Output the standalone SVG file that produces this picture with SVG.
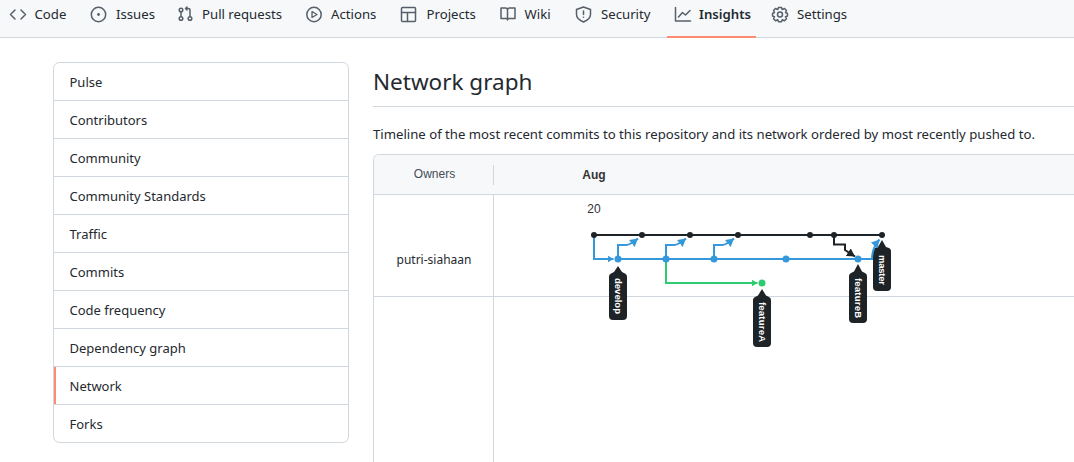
<svg xmlns="http://www.w3.org/2000/svg" width="1074" height="462" viewBox="0 0 1074 462">
<style>
text{font-family:"Noto Sans","Open Sans","Liberation Sans",sans-serif;fill:#24292f}
.n{font-size:13.200px}
.s{font-size:13px}
.ic{fill:none;stroke:#57606a;stroke-width:1.5;stroke-linecap:round;stroke-linejoin:round}
.sep{stroke:#d0d7de;stroke-width:1;fill:none}
.k{stroke:#1e2327;stroke-width:2;fill:none}
.b{stroke:#3498db;stroke-width:2;fill:none}
.g{stroke:#2ecc71;stroke-width:2;fill:none}
.tag{fill:#1e2327}
.tt{fill:#fff;font-family:"Liberation Sans",sans-serif;font-size:9.500px;font-weight:700}
</style>
<defs>
<marker id="ab" markerUnits="userSpaceOnUse" markerWidth="7" markerHeight="7" refX="6" refY="3.500" orient="auto"><path d="M0 0L6 3.500L0 7Z" fill="#3498db"/></marker>
<marker id="ad" markerUnits="userSpaceOnUse" markerWidth="9" markerHeight="9" refX="8" refY="4.500" orient="auto"><path d="M0 0L8 4.500L0 9Z" fill="#3498db"/></marker>
<marker id="ag" markerUnits="userSpaceOnUse" markerWidth="7" markerHeight="7" refX="6" refY="3.500" orient="auto"><path d="M0 0L6 3.500L0 7Z" fill="#2ecc71"/></marker>
<marker id="ak" markerUnits="userSpaceOnUse" markerWidth="9" markerHeight="9" refX="8" refY="4.500" orient="auto"><path d="M0 0L8 4.500L0 9Z" fill="#1e2327"/></marker>
</defs>
<rect width="1074" height="462" fill="#fff"/>
<g id="nav">
<rect width="1074" height="37.500" fill="#f6f8fa"/>
<path class="sep" d="M0 37.500H1074"/>
<rect x="667" y="36" width="89" height="2" fill="#fd8c73"/>
<path class="ic" d="M15 10L10.500 14.500L15 19M21 10L25.500 14.500L21 19"/>
<text class="n" x="34.500" y="19">Code</text>
<circle class="ic" cx="98.500" cy="14.500" r="7.200"/><circle cx="98.500" cy="14.500" r="1.400" fill="#57606a"/>
<text class="n" x="116" y="19">Issues</text>
<circle class="ic" cx="181" cy="10" r="1.800"/><circle class="ic" cx="181" cy="18.500" r="1.800"/><circle class="ic" cx="190" cy="18.500" r="1.800"/>
<path class="ic" d="M181 12V16.500M190 16.500V10Q190 8.500 188 8.500H185.500M187 7L185.500 8.500L187 10"/>
<text class="n" x="202" y="19">Pull requests</text>
<circle class="ic" cx="314" cy="14.500" r="7.200"/><path d="M312 11.500V17.500L317 14.500Z" fill="none" stroke="#57606a" stroke-width="1.300" stroke-linejoin="round"/>
<text class="n" x="331" y="19">Actions</text>
<rect class="ic" x="401.500" y="7.500" width="14" height="14" rx="1"/><path class="ic" d="M401.500 12.500H415.500M407.500 12.500V21.500"/>
<text class="n" x="426.500" y="19">Projects</text>
<path class="ic" d="M507.500 19.500V10Q507.500 8 505.500 8H501V18.500H506Q507.500 18.500 507.500 20Q507.500 18.500 509 18.500H515V8H509.500Q507.500 8 507.500 10"/>
<text class="n" x="524.500" y="19">Wiki</text>
<path class="ic" d="M583.500 7L590.500 9.500V14.500Q590.500 19 583.500 22Q576.500 19 576.500 14.500V9.500Z"/><path class="ic" d="M583.500 11V14.500"/><circle cx="583.500" cy="17.300" r=".8" fill="#57606a"/>
<text class="n" x="601" y="19">Security</text>
<path class="ic" d="M675.500 7.500V21H690.500M678.500 17L682.500 12.500L685.500 15L690 10.500"/>
<text class="n" x="699" y="19" font-weight="600">Insights</text>
<circle class="ic" cx="780" cy="14.500" r="2.500"/><path class="ic" d="M778.500 7.500H781.500L782.200 9.500L784.500 8.500L786.500 10.500L785.500 12.500L787.500 13.500V16L785.500 16.700L786.500 18.800L784.500 20.800L782.200 19.800L781.500 21.700H778.500L777.800 19.800L775.500 20.800L773.500 18.800L774.500 16.700L772.500 16V13.500L774.500 12.500L773.500 10.500L775.500 8.500L777.800 9.500Z"/>
<text class="n" x="797" y="19">Settings</text>
</g>
<g id="sidebar">
<rect x="53.500" y="62.500" width="295" height="380" rx="6" fill="#fff" stroke="#d0d7de"/>
<path class="sep" d="M54 100.500H348M54 138.500H348M54 176.500H348M54 214.500H348M54 252.500H348M54 290.500H348M54 328.500H348M54 366.500H348M54 404.500H348"/>
<rect x="54" y="367" width="2" height="37" fill="#fd8c73"/>
<text class="s" x="69.500" y="87">Pulse</text>
<text class="s" x="69.500" y="125">Contributors</text>
<text class="s" x="69.500" y="163">Community</text>
<text class="s" x="69.500" y="201">Community Standards</text>
<text class="s" x="69.500" y="239">Traffic</text>
<text class="s" x="69.500" y="277">Commits</text>
<text class="s" x="69.500" y="315">Code frequency</text>
<text class="s" x="69.500" y="353">Dependency graph</text>
<text class="s" x="69.500" y="391">Network</text>
<text class="s" x="69.500" y="429">Forks</text>
</g>
<g id="header">
<text x="373" y="90" font-size="22.500">Network graph</text>
<path class="sep" d="M373 106.500H1074"/>
<text x="373" y="139" font-size="13.170">Timeline of the most recent commits to this repository and its network ordered by most recently pushed to.</text>
</g>
<g id="panel">
<path d="M1074 154.500H379.500Q373.500 154.500 373.500 160.500V462" fill="none" stroke="#d0d7de"/>
<path d="M1074 155H380Q374 155 374 161V194H1074Z" fill="#f6f8fa"/>
<path class="sep" d="M374 194.500H1074M374 296.500H1074M493.500 195V462M493.500 165V185"/>
<text x="434.500" y="178" font-size="12" text-anchor="middle" style="fill:#444d56;font-family:'Liberation Sans',sans-serif">Owners</text>
<text x="594" y="179" font-size="12" text-anchor="middle" font-weight="700" style="fill:#333;font-family:'Liberation Sans',sans-serif">Aug</text>
<text x="594" y="213" font-size="12" text-anchor="middle" style="fill:#333;font-family:'Liberation Sans',sans-serif">20</text>
<text x="434" y="264" font-size="12" text-anchor="middle">putri-siahaan</text>
</g>
<g id="connectors">
<path class="k" d="M594 235H882"/>
<path class="b" d="M618 259H858"/>
<path class="b" d="M594 235V259H613.500" marker-end="url(#ab)"/>
<path class="b" d="M618 259V245H626Q630 245 638 238.500" marker-end="url(#ad)"/>
<path class="b" d="M666 259V245H674Q678 245 686 238.500" marker-end="url(#ad)"/>
<path class="b" d="M714 259V245H722Q726 245 734 238.500" marker-end="url(#ad)"/>
<path class="k" d="M834 235V244.500H845V250L855 256.500" marker-end="url(#ak)"/>
<path class="g" d="M666 259V283H757.500" marker-end="url(#ag)"/>
</g>
<g id="c-master" fill="#1e2327"><circle cx="594" cy="235" r="3"/><circle cx="642" cy="235" r="3"/><circle cx="690" cy="235" r="3"/><circle cx="738" cy="235" r="3"/><circle cx="810" cy="235" r="3"/><circle cx="834" cy="235" r="3"/><circle cx="882" cy="235" r="3"/></g>
<g id="c-develop" fill="#3498db"><circle cx="618" cy="259" r="3.500"/><circle cx="666" cy="259" r="3.500"/><circle cx="714" cy="259" r="3.500"/><circle cx="786" cy="259" r="3.500"/><circle cx="858" cy="259" r="3.500"/></g>
<g id="c-featureA"><circle cx="762" cy="283" r="3.500" fill="#2ecc71"/></g>
<g id="tag-develop"><path class="tag" d="M618 266L622 272L625 273.500Q627 274.500 627 276.500V316Q627 320 623 320H613Q609 320 609 316V276.500Q609 274.500 611 273.500L614 272Z"/><text class="tt" transform="translate(614.500 278) rotate(90)" textLength="36">develop</text></g>
<g id="tag-featureA"><path class="tag" d="M762 289L766 295.500L769 297Q771 298 771 300V343Q771 347 767 347H757Q753 347 753 343V300Q753 298 755 297L758 295.500Z"/><text class="tt" transform="translate(758.500 302) rotate(90)" textLength="40">featureA</text></g>
<g id="tag-featureB"><path class="tag" d="M858 264L862 271.500L865 273Q867 274 867 276V319Q867 323 863 323H853Q849 323 849 319V276Q849 274 851 273L854 271.500Z"/><text class="tt" transform="translate(854.500 278) rotate(90)" textLength="40">featureB</text></g>
<g id="tag-master"><path class="tag" d="M882 240L886 247L889 248Q891 249 891 251V287Q891 291 887 291H877Q873 291 873 287V251Q873 249 875 248L878 247Z"/><text class="tt" transform="translate(878.500 255) rotate(90)" textLength="30">master</text></g>
<path class="b" d="M858 259H872Q872 248 879.500 239.500" marker-end="url(#ad)"/>
</svg>
